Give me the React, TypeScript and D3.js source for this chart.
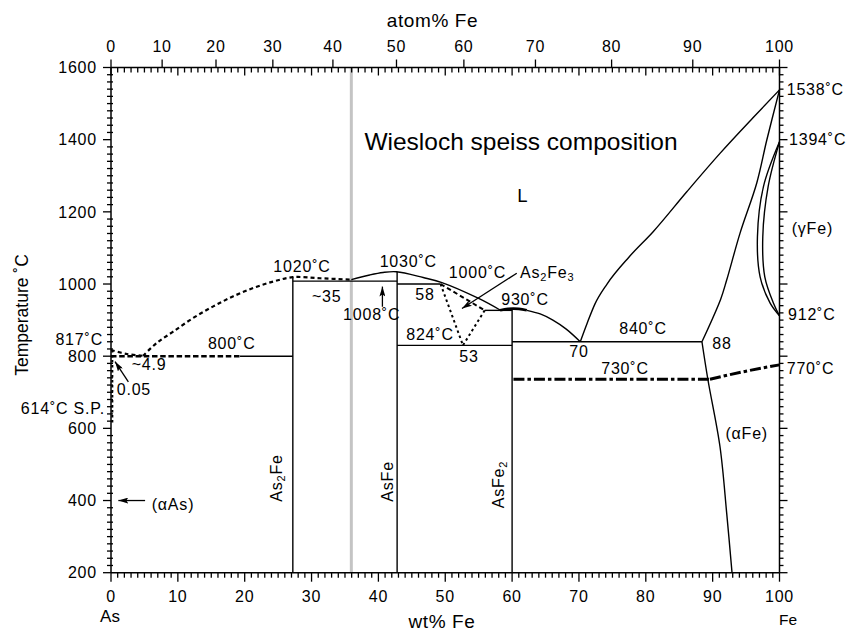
import React from "react";
import * as d3 from "d3";

const W = 856;
const H = 634;

// axis ticks
const wtTicks = [0, 10, 20, 30, 40, 50, 60, 70, 80, 90, 100];
const atTicks = [0, 10, 20, 30, 40, 50, 60, 70, 80, 90, 100];
const tempTicks = [200, 400, 600, 800, 1000, 1200, 1400, 1600];

// phase boundaries, [wt% Fe, temperature °C]
const liqAsSide: [number, number][] = [[0, 817], [2.4, 806], [4.8, 801]];
const liqAs2Fe: [number, number][] = [
  [4.8, 801], [6.8, 836], [9.3, 868], [12.3, 906], [15.3, 938], [18.3, 966],
  [21.3, 989], [24.3, 1007], [27.2, 1019], [31.3, 1016], [35.95, 1012],
];
const liqAsFe: [number, number][] = [
  [35.95, 1012], [38.7, 1025], [40.7, 1032], [42.7, 1034], [46.7, 1018],
  [49.5, 1004], [55, 960], [58.2, 928],
];
const liqCap: [number, number][] = [[58.2, 927], [59.4, 931], [61, 931], [62.2, 927]];
const liqAsFe2: [number, number][] = [
  [62.2, 927], [64.2, 917], [66.1, 900], [68.1, 875], [70.2, 840],
];
const liqFe: [number, number][] = [
  [70.2, 840], [71.2, 890], [72.4, 945], [74.2, 1000], [77.5, 1075], [81.1, 1145],
  [86.1, 1255], [91.1, 1362], [96, 1460], [100, 1538],
];
const solFe: [number, number][] = [
  [100, 1538], [98.1, 1399], [96.6, 1280], [94.1, 1141], [92.1, 1011], [91.2, 958], [88.4, 840],
];
const alphaFe: [number, number][] = [[88.4, 840], [89.3, 734], [91.1, 549], [92.1, 365], [92.9, 200]];
const gammaOuter: [number, number][] = [
  [100, 1394], [97.6, 1270], [96.7, 1131], [97.1, 1020], [98.6, 947], [100, 912],
];
const gammaInner: [number, number][] = [
  [100, 1394], [98.3, 1270], [97.5, 1131], [97.8, 1020], [99.1, 947], [100, 912],
];
const magneticFlat: [number, number][] = [[60.2, 736], [89.6, 736]];
const magneticRise: [number, number][] = [[89.6, 736], [94.6, 757], [100, 776]];

// invariant lines [x1, x2, T]
const horizontals: [number, number, number][] = [
  [19.3, 27.2, 800], [27.2, 42.8, 1008], [42.8, 49.3, 1000],
  [42.8, 60, 830], [55.9, 60, 927], [60, 88.4, 840],
];
// compounds [x, Ttop]
const compounds: [number, number][] = [[27.2, 1019], [42.8, 1034], [60, 928]];
const speiss = 35.95;

// As2Fe3 field
const as2fe3Left: [number, number][] = [[49.3, 1000], [52.65, 830]];
const as2fe3Right: [number, number][] = [[55.9, 927], [52.65, 830]];
const as2fe3Top: [number, number][] = [[49.3, 1000], [55.9, 927]];

// annotation arrows [x1,T1,x2,T2]
const arrows: [number, number, number, number][] = [
  [40.6, 937, 40.6, 993], [2.6, 729, 0.6, 785], [5.1, 400, 1.1, 400], [60.7, 1030, 52.5, 932],
];

const x = d3.scaleLinear().domain([0, 100]).range([111, 779.5]);
const y = d3.scaleLinear().domain([200, 1600]).range([572.7, 67.5]);
const atToWt = (a: number) => (100 * a * 55.845) / (a * 55.845 + (100 - a) * 74.9216);

const curve = d3
  .line<[number, number]>()
  .x((d) => x(d[0]))
  .y((d) => y(d[1]))
  .curve(d3.curveCatmullRom.alpha(0.5));
const mono = d3
  .line<[number, number]>()
  .x((d) => x(d[0]))
  .y((d) => y(d[1]))
  .curve(d3.curveMonotoneX);
const straight = d3
  .line<[number, number]>()
  .x((d) => x(d[0]))
  .y((d) => y(d[1]));

const FONT = "'Liberation Sans', Arial, Helvetica, sans-serif";

export default function App() {
  const x0 = x(0), x1 = x(100), yb = y(200), yt = y(1600);
  const minorWt = d3.range(0, 101, 1);
  const minorT = d3.range(200, 1601, 20);
  const lbl = { fontSize: 16, letterSpacing: 0.8 } as const;

  return (
    <svg width={W} height={H} style={{ position: "absolute", left: 0, top: 0, background: "#fff" }} fontFamily={FONT}>
      <defs>
        <marker id="ah" viewBox="0 0 10 6" refX="10" refY="3" markerWidth="10" markerHeight="6" markerUnits="userSpaceOnUse" orient="auto">
          <path d="M0,0 L10,3 L0,6 L2,3 z" fill="#000" />
        </marker>
      </defs>

      {/* speiss composition */}
      <line x1={x(speiss)} x2={x(speiss)} y1={yb} y2={yt} stroke="#c4c4c4" strokeWidth={3} />

      {/* frame */}
      <g stroke="#000" strokeWidth={1.5} fill="none">
        <line x1={x0} x2={x1} y1={yb} y2={yb} />
        <line x1={x0} x2={x1} y1={yt} y2={yt} />
        <line x1={x0} x2={x0} y1={yt} y2={yb} />
        <line x1={x1} x2={x1} y1={yt} y2={yb} />
      </g>

      {/* ticks */}
      <g stroke="#000" strokeWidth={1.3}>
        {minorWt.map((w) => {
          const major = w % 10 === 0;
          return (
            <g key={"w" + w}>
              <line x1={x(w)} x2={x(w)} y1={yb} y2={yb + (major ? 9 : 5)} />
              <line x1={x(w)} x2={x(w)} y1={yt} y2={yt + (major ? 8 : 5)} />
            </g>
          );
        })}
        {atTicks.map((a) => (
          <line key={"a" + a} x1={x(atToWt(a))} x2={x(atToWt(a))} y1={yt} y2={yt - 8} />
        ))}
        {minorT.map((t) => {
          const major = t % 200 === 0;
          return (
            <g key={"t" + t}>
              <line x1={major ? x0 - 8 : x0 - 4} x2={major ? x0 : x0 + 2} y1={y(t)} y2={y(t)} />
              <line x1={x1} x2={x1 + (major ? 8 : 4)} y1={y(t)} y2={y(t)} />
            </g>
          );
        })}
      </g>

      {/* tick labels */}
      <g fontSize={16} letterSpacing={0.8} fill="#000">
        {wtTicks.map((w) => (
          <text key={"wl" + w} x={x(w)} y={602.4} textAnchor="middle">{w}</text>
        ))}
        {atTicks.map((a) => (
          <text key={"al" + a} x={x(atToWt(a))} y={52.4} textAnchor="middle">{a}</text>
        ))}
        {tempTicks.map((t) => (
          <text key={"tl" + t} x={97} y={y(t) + 5.7} textAnchor="end">{t}</text>
        ))}
      </g>

      {/* axis titles */}
      <text x={432.5} y={26.7} textAnchor="middle" fontSize={19} letterSpacing={0.6}>atom% Fe</text>
      <text x={442} y={628} textAnchor="middle" fontSize={19} letterSpacing={0.6}>wt% Fe</text>
      <text x={110} y={622} textAnchor="middle" fontSize={17}>As</text>
      <text x={788} y={625} textAnchor="middle" fontSize={15.5}>Fe</text>
      <text transform="translate(28,315) rotate(-90)" textAnchor="middle" fontSize={17.5}>Temperature ˚C</text>

      {/* phase boundaries */}
      <g fill="none" stroke="#000" strokeWidth={1.4}>
        {horizontals.map((h, i) => (
          <line key={"h" + i} x1={x(h[0])} x2={x(h[1])} y1={y(h[2])} y2={y(h[2])} />
        ))}
        {compounds.map((c, i) => (
          <line key={"c" + i} x1={x(c[0])} x2={x(c[0])} y1={yb} y2={y(c[1])} />
        ))}
        <path d={curve(liqAsFe) ?? ""} />
        <path d={curve(liqCap) ?? ""} strokeWidth={2.6} />
        <path d={curve(liqAsFe2) ?? ""} />
        <path d={mono(liqFe) ?? ""} />
        <path d={curve(solFe) ?? ""} />
        <path d={curve(alphaFe) ?? ""} />
        <path d={curve(gammaOuter) ?? ""} />
        <path d={curve(gammaInner) ?? ""} />
      </g>

      {/* dashed / dotted boundaries */}
      <g fill="none" stroke="#000">
        <path d={curve(liqAsSide) ?? ""} strokeWidth={2.2} strokeDasharray="4 3" />
        <path d={curve(liqAs2Fe) ?? ""} strokeWidth={2.2} strokeDasharray="4 3" />
        <line x1={x(0)} x2={x(19.3)} y1={y(800)} y2={y(800)} strokeWidth={2.4} strokeDasharray="5.5 2.7" />
        <line x1={x(0.2)} x2={x(0.2)} y1={y(817)} y2={y(614)} strokeWidth={2} strokeDasharray="2.5 2.5" />
        <path d={straight(as2fe3Left) ?? ""} strokeWidth={2} strokeDasharray="2.5 3" />
        <path d={straight(as2fe3Right) ?? ""} strokeWidth={2} strokeDasharray="2.5 3" />
        <path d={straight(as2fe3Top) ?? ""} strokeWidth={2} strokeDasharray="4.5 3" />
        <path d={straight(magneticFlat) ?? ""} strokeWidth={3} strokeDasharray="11 3 3.5 3" />
        <path d={mono(magneticRise) ?? ""} strokeWidth={3} strokeDasharray="11 3 3.5 3" />
      </g>

      {/* arrows */}
      <g stroke="#000" strokeWidth={1.3}>
        {arrows.map((a, i) => (
          <line key={"ar" + i} x1={x(a[0])} y1={y(a[1])} x2={x(a[2])} y2={y(a[3])} markerEnd="url(#ah)" />
        ))}
      </g>

      {/* labels */}
      <g {...lbl} fill="#000">
        <text x={302} y={272} textAnchor="middle">1020˚C</text>
        <text x={408.3} y={267} textAnchor="middle">1030˚C</text>
        <text x={326.7} y={302} textAnchor="middle">~35</text>
        <text x={371.7} y={320.4} textAnchor="middle">1008˚C</text>
        <text x={425} y={300.4} textAnchor="middle">58</text>
        <text x={477.5} y={277.7} textAnchor="middle">1000˚C</text>
        <text x={520} y={277.7}>
          As<tspan fontSize={11} dy={3}>2</tspan>
          <tspan dy={-3}>Fe</tspan>
          <tspan fontSize={11} dy={3}>3</tspan>
        </text>
        <text x={525} y={305.4} textAnchor="middle">930˚C</text>
        <text x={430} y={340.4} textAnchor="middle">824˚C</text>
        <text x={469} y={362} textAnchor="middle">53</text>
        <text x={579} y={357} textAnchor="middle">70</text>
        <text x={643} y={333.7} textAnchor="middle">840˚C</text>
        <text x={722} y={349.4} textAnchor="middle">88</text>
        <text x={625} y={373.7} textAnchor="middle">730˚C</text>
        <text x={786.7} y={373.7}>770˚C</text>
        <text x={788} y={320.4}>912˚C</text>
        <text x={746.7} y={439.4} textAnchor="middle">(αFe)</text>
        <text x={791.7} y={233.7}>(γFe)</text>
        <text x={786.7} y={95.4}>1538˚C</text>
        <text x={789} y={145.4}>1394˚C</text>
        <text x={103} y={345.4} textAnchor="end">817˚C</text>
        <text x={231.7} y={348.7} textAnchor="middle">800˚C</text>
        <text x={131.7} y={370.4}>~4.9</text>
        <text x={116.7} y={395.4}>0.05</text>
        <text x={105} y={413.7} textAnchor="end">614˚C S.P.</text>
        <text x={151.7} y={509.5}>(αAs)</text>
        <text transform="translate(282,501.7) rotate(-90)">
          As<tspan fontSize={11} dy={3}>2</tspan>
          <tspan dy={-3}>Fe</tspan>
        </text>
        <text transform="translate(393,501.7) rotate(-90)">AsFe</text>
        <text transform="translate(504,508.3) rotate(-90)">
          AsFe<tspan fontSize={11} dy={3}>2</tspan>
        </text>
      </g>

      <text x={521} y={150} textAnchor="middle" fontSize={24.5}>Wiesloch speiss composition</text>
      <text x={522.5} y={201.7} textAnchor="middle" fontSize={18.5}>L</text>
    </svg>
  );
}
